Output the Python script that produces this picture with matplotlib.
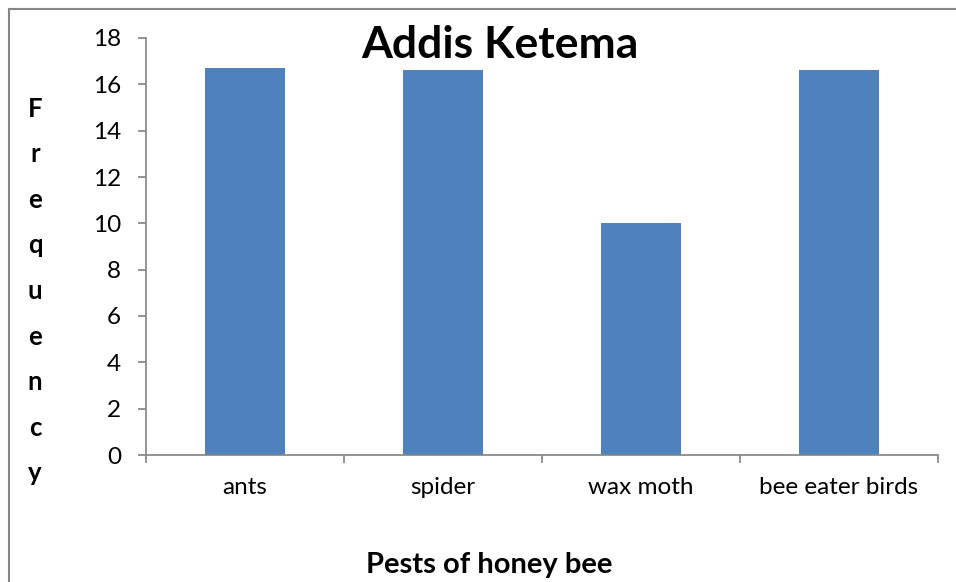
import matplotlib.pyplot as plt
from matplotlib.lines import Line2D

plt.rcParams["font.family"] = ["Lato", "DejaVu Sans"]

# data
pests = ["ants", "spider", "wax moth", "bee eater birds"]
frequency = [16.7, 16.6, 10.0, 16.6]
y_ticks = [0, 2, 4, 6, 8, 10, 12, 14, 16, 18]

W, H = 956, 582
fig = plt.figure(figsize=(W / 100, H / 100), dpi=100)
ax = fig.add_axes([146 / W, 1 - 455 / H, (938 - 146) / W, (455 - 38) / H])

x = list(range(len(pests)))
ax.bar(x, frequency, width=0.4, color="#4F81BD", zorder=2)

grey = "#868686"
ax.set_xlim(-0.5, len(pests) - 0.5)
ax.set_ylim(0, 18)
ax.set_yticks(y_ticks)
ax.set_yticklabels([str(v) for v in y_ticks])

# labels at category centres, tick marks at the boundaries
ax.set_xticks(x)
ax.set_xticklabels(pests)
ax.set_xticks([i - 0.5 for i in range(len(pests) + 1)], minor=True)
ax.tick_params(axis="x", which="major", length=0, pad=16, labelsize=17.5)
ax.tick_params(axis="x", which="minor", length=6, width=1.25, color=grey, direction="out")
ax.tick_params(axis="y", length=6, width=1.25, color=grey, pad=12, labelsize=17.5)

for side in ["top", "right"]:
    ax.spines[side].set_visible(False)
for side in ["left", "bottom"]:
    ax.spines[side].set_color(grey)
    ax.spines[side].set_linewidth(1.25)

# title inside the plot area
fig.text(500 / W, 1 - 58 / H, "Addis Ketema", ha="center", va="baseline",
         fontsize=32, fontweight="bold")

# stacked y label
fig.text(35 / W, 1 - 291 / H, "\n".join("Frequency"), ha="center", va="center",
         fontsize=18.5, fontweight="bold", linespacing=2.08)

fig.text(489 / W, 1 - 573 / H, "Pests of honey bee", ha="center", va="baseline",
         fontsize=21, fontweight="bold")

# chart border (only top and left visible in the crop)
bx, by = 8.5 / W, 1 - 8.5 / H
fig.add_artist(Line2D([bx, bx], [0, by], transform=fig.transFigure, color=grey, lw=1.5))
fig.add_artist(Line2D([bx, 1], [by, by], transform=fig.transFigure, color=grey, lw=1.5))

plt.savefig("out.png", dpi=100)
